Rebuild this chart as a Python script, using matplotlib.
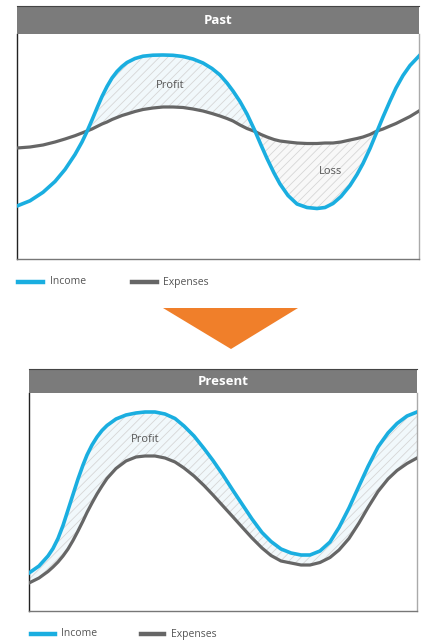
import numpy as np
import matplotlib
matplotlib.use("Agg")
import matplotlib.pyplot as plt
from matplotlib.patches import Polygon
from matplotlib.lines import Line2D

plt.rcParams['font.family'] = ['Open Sans', 'DejaVu Sans']
plt.rcParams['hatch.linewidth'] = 0.6

# ---- data -------------------------------------------------------------
# Past: income swings widely around a slowly varying expense level
past_t = [0, 13, 26, 38, 48, 58, 65, 70, 75, 80, 85, 90, 95, 100, 105, 110, 118, 126,
          136, 146, 156, 166, 176, 186, 195, 203, 210, 216, 223, 230, 238, 244, 250,
          257, 263, 271, 280, 290, 300, 308, 316, 324, 333, 340, 346, 353, 360, 366,
          373, 379, 386, 393, 402]
past_income = [53, 58.2, 66.7, 77.5, 89.5, 104.5, 117, 127.5, 139, 151, 162.5, 172.5,
               181, 187.5, 192.5, 196.5, 200.5, 202.8, 203.8, 204, 203.7, 202.5, 200,
               196, 190.5, 184, 176, 168, 157.5, 145, 128, 114, 100.5, 86, 75, 63.5, 55,
               51.5, 50.5, 51.5, 55.5, 62.5, 73.5, 84.5, 95.5, 110.5, 127.5, 142, 158,
               171, 183.5, 193.5, 203]
past_expenses = [111, 112, 114, 117, 120, 123.3, 126, 128, 130, 132.5, 135, 137, 139.5,
                 141.5, 143.5, 145, 147.5, 149.5, 151, 152, 152, 151.5, 150, 148, 145.5,
                 143, 140.5, 138, 134, 130.5, 127.5, 124.5, 122, 119.5, 118, 117, 116,
                 115.5, 115.5, 116, 116, 117, 119, 120.5, 122, 124.5, 128, 130, 133,
                 135.5, 139, 142.5, 148]

# Present: income stays above expenses throughout
present_t = [0, 10, 19, 24, 29, 34, 39, 44, 49, 54, 58, 63, 68, 73, 78, 87, 97, 107, 116,
             126, 136, 146, 155, 165, 175, 184, 194, 204, 213, 223, 233, 242, 252, 262,
             272, 281, 291, 301, 310, 320, 330, 339, 349, 359, 368, 378, 388]
present_income = [38, 45, 55, 62.5, 72.5, 85.5, 101, 116.5, 132, 146, 156, 166, 174,
                  180.5, 185.5, 192, 196, 198, 199, 199, 197, 192.5, 185, 175, 162.5, 150.5,
                  136, 120.5, 107, 92, 78.5, 69.5, 62, 58, 56, 56, 60, 69, 83.5, 103, 125,
                  144.5, 164, 178, 187.5, 195, 199]
present_expenses = [28, 33, 39.5, 44, 49, 55, 62, 70.5, 80, 90, 98.5, 108, 117, 125,
                    132.5, 142.5, 150, 154, 155, 155, 153, 149, 143, 135, 125.5, 116, 105,
                    94, 84, 73, 63, 55.5, 50, 48, 46, 46, 48.5, 53.5, 61, 72.5, 88, 103.5,
                    119.5, 132, 140.5, 147.5, 153]

panel_titles = ["Past", "Present"]
series_names = ["Income", "Expenses"]

INCOME_C = "#1aaee0"
EXPENSE_C = "#666666"
HEADER_C = "#7b7b7b"
HATCH_C = "#d6d6d6"
TEXT_C = "#555555"

W, H = 422, 644
fig = plt.figure(figsize=(W / 100, H / 100), dpi=100)
fig.patch.set_facecolor("white")


def fx(px):
    return px / W


def fy(py):
    return 1 - py / H


def panel(box, header, t, inc, exp, ylim, title, labels):
    x0, y0, x1, y1 = box
    ax = fig.add_axes([fx(x0), fy(y1), fx(x1) - fx(x0), fy(y0) - fy(y1)])
    t = np.asarray(t, float)
    inc = np.asarray(inc, float)
    exp = np.asarray(exp, float)

    # shade only between the first and last crossing of the two lines
    d = inc - exp
    flips = np.nonzero(np.sign(d[:-1]) != np.sign(d[1:]))[0]
    idx = np.arange(len(t))
    if len(flips) >= 2:
        span = (idx > flips[0]) & (idx <= flips[-1])
    else:
        span = np.ones(len(t), bool)
    ax.fill_between(t, inc, exp, where=span & (d >= 0), interpolate=True,
                    facecolor="#f1f8fb", edgecolor=HATCH_C, hatch="////", linewidth=0)
    ax.fill_between(t, inc, exp, where=span & (d < 0), interpolate=True,
                    facecolor="#f8f8f8", edgecolor=HATCH_C, hatch="////", linewidth=0)
    ax.plot(t, exp, color=EXPENSE_C, lw=2.3, solid_joinstyle="round", zorder=3)
    ax.plot(t, inc, color=INCOME_C, lw=2.6, solid_joinstyle="round", zorder=4)
    ax.set_xlim(t[0], t[-1])
    ax.set_ylim(*ylim)
    ax.set_xticks([])
    ax.set_yticks([])
    ax.spines['top'].set_visible(False)
    ax.spines['left'].set_color("#222222")
    ax.spines['bottom'].set_color("#777777")
    ax.spines['right'].set_color("#aaaaaa")
    for s in ax.spines.values():
        s.set_linewidth(1.0)
    for txt, xx, yy in labels:
        ax.text(xx, yy, txt, ha="center", va="center", fontsize=8, color=TEXT_C, zorder=5)

    hx0, hy0, hx1, hy1 = header
    hax = fig.add_axes([fx(hx0), fy(hy1), fx(hx1) - fx(hx0), fy(hy0) - fy(hy1)])
    hax.set_facecolor(HEADER_C)
    hax.set_xticks([])
    hax.set_yticks([])
    for s in hax.spines.values():
        s.set_visible(False)
    hax.spines['top'].set_visible(True)
    hax.spines['top'].set_color("#444444")
    hax.text(0.5, 0.48, title, ha="center", va="center", fontsize=9.5,
             fontweight="bold", color="white", transform=hax.transAxes)
    return ax


def legend(y, xs):
    for (l0, l1, tx), name, col in ((xs[0], series_names[0], INCOME_C),
                                    (xs[1], series_names[1], EXPENSE_C)):
        fig.add_artist(Line2D([fx(l0), fx(l1)], [fy(y), fy(y)], color=col, lw=3.2,
                              transform=fig.transFigure))
        fig.text(fx(tx), fy(y), name, ha="left", va="center", fontsize=7.5, color=TEXT_C)


panel((17, 34, 419, 259), (17, 6, 419, 34), past_t, past_income, past_expenses,
      (0, 225), panel_titles[0],
      [("Profit", 153, 173), ("Loss", 313, 88)])
legend(282, [(18, 43, 50), (132, 157, 163)])

# arrow pointing from past to present
fig.add_artist(Polygon([[fx(163), fy(308)], [fx(298), fy(308)], [fx(231), fy(349)]],
                       closed=True, facecolor="#f07f2a", edgecolor="none",
                       transform=fig.transFigure))

panel((29, 393, 417, 611), (29, 369, 417, 393), present_t, present_income, present_expenses,
      (0, 218), panel_titles[1],
      [("Profit", 116, 171)])
legend(634, [(31, 55, 61), (141, 164, 171)])

fig.savefig("out.png", dpi=100, facecolor="white")
